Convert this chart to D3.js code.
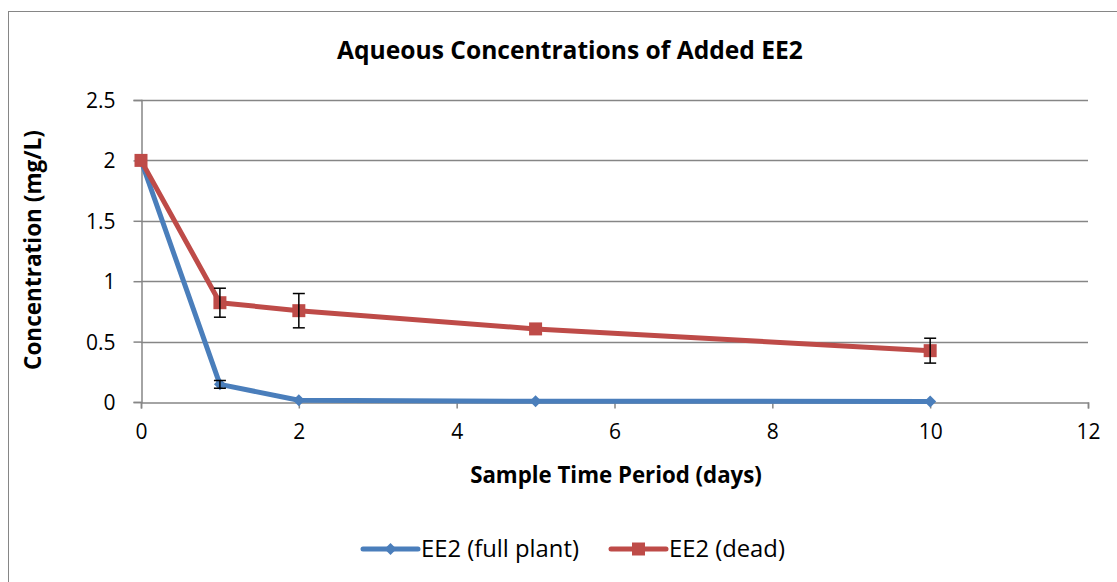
<!DOCTYPE html>
<html>
<head>
<meta charset="utf-8">
<script src="https://cdn.jsdelivr.net/npm/d3@7"></script>
<style>
  body { margin: 0; background: #fff; }
  text { font-family: "Open Sans", "Noto Sans", sans-serif; fill: #000; }
</style>
</head>
<body>
<svg id="chart" width="1117" height="582"></svg>
<script>
// data
const days = [0, 1, 2, 5, 10]
const full_plant = [2.0, 0.146, 0.015, 0.006, 0.005]
const full_plant_err = [null, 0.032, null, null, null]
const dead = [2.0, 0.822, 0.756, 0.605, 0.425]
const dead_err = [null, 0.12, 0.142, null, 0.103]

const x_ticks = [0, 2, 4, 6, 8, 10, 12]
const y_ticks = [0, 0.5, 1, 1.5, 2, 2.5]

const svg = d3.select('#chart')

const color_full = '#4a7ebb', color_dead = '#be4b48', grid_color = '#868686'

/* 把文字缩放到参考图里的宽度 */
const fit = (sel, target) => {
    const w = sel.node().getComputedTextLength()
    const fs = parseFloat(sel.style('font-size'))
    sel.style('font-size', (fs * target / w) + 'px')
}

/* 外框 */
svg.append('rect')
    .attr('x', 8.5).attr('y', 11.5)
    .attr('width', 1120).attr('height', 600)
    .attr('fill', '#fff').attr('stroke', '#868686').attr('stroke-width', 1)

const plot_left = 141, plot_right = 1088, plot_top = 100, plot_bottom = 402

const x = d3.scaleLinear().domain([0, 12]).range([plot_left, plot_right])
const y = d3.scaleLinear().domain([0, 2.5]).range([plot_bottom, plot_top])

/* 横向网格线 */
svg.append('g')
    .selectAll('line')
    .data(y_ticks.filter(d => d > 0))
    .join('line')
    .attr('x1', plot_left).attr('x2', plot_right)
    .attr('y1', d => Math.round(y(d)) + 0.5).attr('y2', d => Math.round(y(d)) + 0.5)
    .attr('stroke', grid_color).attr('stroke-width', 1.5)

/* y 轴 */
const y_axis = svg.append('g')
    .attr('transform', `translate(${plot_left + 0.5},0)`)
    .call(d3.axisLeft(y).tickValues(y_ticks).tickSize(8).tickPadding(18).tickFormat(d => d))
y_axis.select('.domain').attr('stroke', grid_color).attr('stroke-width', 1.5)
y_axis.selectAll('.tick line').attr('stroke', grid_color).attr('stroke-width', 1.5)
y_axis.selectAll('.tick text').style('font-size', '21px').attr('dy', '0.36em')

/* x 轴 */
const x_axis = svg.append('g')
    .attr('transform', `translate(0,${plot_bottom + 0.5})`)
    .call(d3.axisBottom(x).tickValues(x_ticks).tickSize(6).tickPadding(16).tickFormat(d => d))
x_axis.select('.domain').attr('stroke', grid_color).attr('stroke-width', 1.5)
x_axis.selectAll('.tick line').attr('stroke', grid_color).attr('stroke-width', 1.5)
x_axis.selectAll('.tick text').style('font-size', '21px').attr('dy', '0.71em')

/* 标题 */
const title = svg.append('text')
    .attr('x', 570).attr('y', 59)
    .attr('text-anchor', 'middle')
    .style('font-size', '22px').style('font-weight', 'bold')
    .text('Aqueous Concentrations of Added EE2')
fit(title, 466)

const x_title = svg.append('text')
    .attr('x', 616).attr('y', 483)
    .attr('text-anchor', 'middle')
    .style('font-size', '20px').style('font-weight', 'bold')
    .text('Sample Time Period (days)')
fit(x_title, 292)

const y_title = svg.append('text')
    .attr('transform', `translate(41,250) rotate(-90)`)
    .attr('text-anchor', 'middle')
    .style('font-size', '20px').style('font-weight', 'bold')
    .text('Concentration (mg/L)')
fit(y_title, 240)

/* 数据 */
const series = [
    {name: 'EE2 (full plant)', values: full_plant, err: full_plant_err, color: color_full, marker: 'diamond'},
    {name: 'EE2 (dead)', values: dead, err: dead_err, color: color_dead, marker: 'square'}
]

const line = d3.line().x(d => x(d[0])).y(d => y(d[1]))

const marker_path = (type) => type == 'diamond' ? 'M0,-6L6,0L0,6L-6,0Z' : 'M-6.5,-6.5H6.5V6.5H-6.5Z'

series.forEach(s => {
    const pts = days.map((d, i) => [d, s.values[i], s.err[i]])

    svg.append('path')
        .datum(pts)
        .attr('d', line)
        .attr('fill', 'none')
        .attr('stroke', s.color)
        .attr('stroke-width', 5)
        .attr('stroke-linejoin', 'round')

    svg.append('g')
        .selectAll('path')
        .data(pts)
        .join('path')
        .attr('transform', d => `translate(${x(d[0])},${y(d[1])})`)
        .attr('d', marker_path(s.marker))
        .attr('fill', s.color)

    /* 误差线 */
    const eb = svg.append('g')
        .selectAll('g')
        .data(pts.filter(d => d[2] != null))
        .join('g')
        .attr('stroke', '#000').attr('stroke-width', 1.5)
    eb.append('line')
        .attr('x1', d => x(d[0])).attr('x2', d => x(d[0]))
        .attr('y1', d => y(d[1] + d[2])).attr('y2', d => y(d[1] - d[2]))
    eb.append('line')
        .attr('x1', d => x(d[0]) - 6).attr('x2', d => x(d[0]) + 6)
        .attr('y1', d => y(d[1] + d[2])).attr('y2', d => y(d[1] + d[2]))
    eb.append('line')
        .attr('x1', d => x(d[0]) - 6).attr('x2', d => x(d[0]) + 6)
        .attr('y1', d => y(d[1] - d[2])).attr('y2', d => y(d[1] - d[2]))
})

/* 图例 */
const legend_x = [363, 611]
const legend_text_w = [158, 116]
const legend = svg.append('g')
    .selectAll('g')
    .data(series)
    .join('g')
    .attr('transform', (d, i) => `translate(${legend_x[i]},549)`)
legend.append('line')
    .attr('x1', 0).attr('x2', 55)
    .attr('stroke', d => d.color).attr('stroke-width', 5).attr('stroke-linecap', 'round')
legend.append('path')
    .attr('transform', 'translate(27.5,0)')
    .attr('d', d => marker_path(d.marker))
    .attr('fill', d => d.color)
legend.append('text')
    .attr('x', 58).attr('y', 8)
    .style('font-size', '20px')
    .text(d => d.name)
    .each(function(d, i) { fit(d3.select(this), legend_text_w[i]) })
</script>
</body>
</html>
